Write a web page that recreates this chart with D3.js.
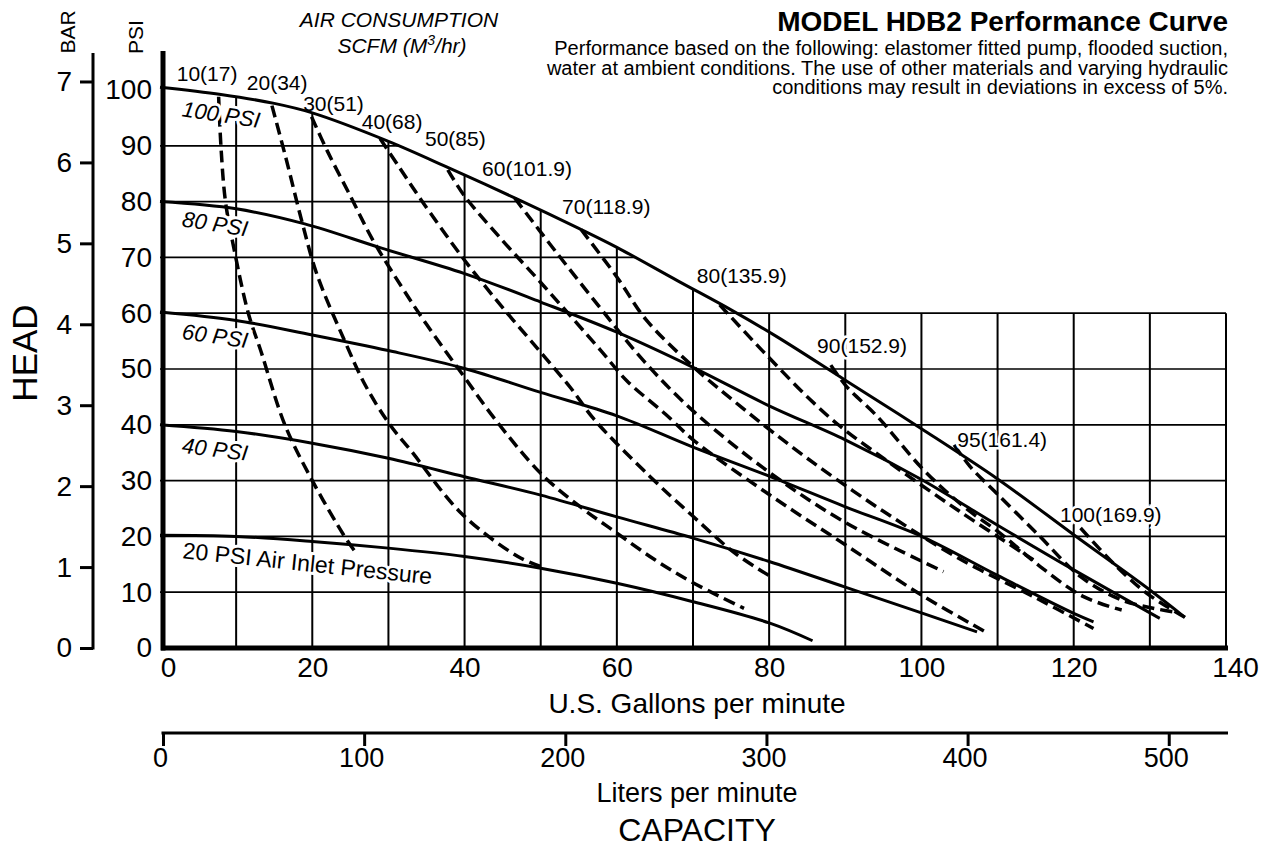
<!DOCTYPE html>
<html>
<head>
<meta charset="utf-8">
<script src="https://cdn.jsdelivr.net/npm/d3@7"></script>
<style>
  body { margin: 0; background: #fff; }
  svg { display: block; font-family: 'Liberation Sans', Arial, sans-serif; }
  .axis .domain { display: none; }
  .axis text { fill: #000; }
  .axis line { stroke: #000; stroke-width: 3; }
</style>
</head>
<body>
<div id="chart"></div>
<script>
const dim = { width: 1267, height: 851 }

// ticks
const gpmTicks = [0, 20, 40, 60, 80, 100, 120, 140]
const gridGpm = [10, 20, 30, 40, 50, 60, 70, 80, 90, 100, 110, 120, 130, 140]
const psiTicks = [0, 10, 20, 30, 40, 50, 60, 70, 80, 90, 100]
const gridPsi = [10, 20, 30, 40, 50, 60, 70, 80, 90]
const barTicks = [0, 1, 2, 3, 4, 5, 6, 7]
const literTicks = [0, 100, 200, 300, 400, 500]

// head curves at each air inlet pressure  [gpm, psi]
const pressureNames = ['100 PSI', '80 PSI', '60 PSI', '40 PSI', '20 PSI Air Inlet Pressure']
const psi100 = [[0,100.5],[8,99.2],[15,97.6],[20,95.9],[30,90.8],[38,86],[47,80.4],[55,75.2],[60,71.8],[68,65.8],[75,60.6],[81,55.8],[90,48],[100,39.3],[110,30.3],[120,20.3],[130,10.4],[134.6,5.5]]
const psi80 = [[0,80],[10,78.7],[19,76],[29,71.7],[40,67.1],[50,62],[60,56.6],[70,50.3],[80,43.4],[90,37.3],[100,30.2],[110,22],[120,14],[131.3,5.3]]
const psi60 = [[0,60.2],[10,58.7],[20,56.1],[30,53.3],[40,50.1],[50,45.8],[60,41.6],[70,36],[80,30.8],[90,25.3],[100,20],[110,13],[120,6.2],[122.6,4.7]]
const psi40 = [[0,40],[10,38.8],[20,36.7],[30,34],[40,30.7],[50,27.4],[60,23.5],[70,19.7],[80,15.5],[90,10.9],[100,6.3],[107.3,2.9]]
const psi20 = [[0,20.2],[10,20],[20,19.1],[30,17.9],[40,16.4],[50,14.3],[60,11.6],[70,8.3],[80,4.5],[85.7,1.3]]

// air consumption lines, SCFM (m3/hr)  [gpm, psi]
const airNames = ['10(17)', '20(34)', '30(51)', '40(68)', '50(85)', '60(101.9)', '70(118.9)', '80(135.9)', '90(152.9)', '95(161.4)', '100(169.9)']
const air10 = [[7.7,98.8],[8.0,90],[8.6,80],[9.8,71],[11.6,60],[13.3,53],[16.4,40],[20,30],[24.1,20.3],[25.6,17.3]]
const air20 = [[14.7,97.2],[16.5,88],[18.7,76.1],[20.6,67],[24.2,55.2],[27,47],[30.2,40],[33,35.3],[39.6,24.1],[47,16.4],[50,14.6]]
const air30 = [[19.9,95.2],[22,89],[25,81],[28,73],[31.7,64.8],[35,58],[40,48.5],[44,41],[50,31.3],[55,25.5],[60,20.6],[65,15.8],[70,11.7],[76.7,7.1]]
const air40 = [[28.9,91.3],[31.5,86],[34.3,80.3],[40,69.5],[45,61],[50,53],[54,46.5],[57,41],[64.3,30.8],[70,23.6],[75.5,17],[80.2,12.8]]
const air50 = [[37.8,85.7],[40,81],[45,73],[50,65.5],[57.9,53.3],[61.3,47.9],[66.4,41.9],[70.2,37.1],[80,27.5],[90,18.5],[100,9.5],[108.8,2.6]]
const air60 = [[46.6,80.6],[52,71],[57.9,60.8],[63.5,51.5],[70,42.5],[80,31.5],[90,22.5],[102.9,13.7]]
const air70 = [[55.3,75],[60,66.5],[63.8,58.9],[69.8,50.7],[76.6,42.9],[85,34],[95,24.5],[105,16],[115,9],[122.6,3.5]]
const air80 = [[73.5,61.5],[79.1,53.3],[85.1,44.9],[89,40.1],[95,34],[105,24.5],[114.7,15.8]]
const air90 = [[88.1,50.7],[90.2,46.8],[94.2,41.5],[100.3,31.9],[105.6,25.3],[110.4,20.5],[115.6,14.6],[121.3,9.2],[126.3,6.8]]
const air95 = [[104.3,36.4],[106.4,32.5],[109.9,27.7],[115.2,20.5],[120.9,12.8],[126.5,8.5],[133,6.5]]
const air100 = [[120.9,21.5],[125.2,15.2],[129.6,9.8],[134.6,5.5]]

// where the curve labels sit  [gpm, psi, angle]
const pressureLabelAt = [[2.8,95.3,8.5],[2.8,75.6,9],[2.8,55.4,8],[2.8,35,7],[2.9,16.1,6]]
const airLabelAt = [[2.2,101.6],[11.4,100],[18.8,96.2],[26.5,93],[34.8,90],[42.3,84.6],[52.8,77.8],[70.5,65.4],[86.3,52.9],[104.7,36],[118.2,22.6]]

const pressureCurves = [psi100, psi80, psi60, psi40, psi20]
const airCurves = [air10, air20, air30, air40, air50, air60, air70, air80, air90, air95, air100]

const svg = d3.select('#chart')
    .append('svg')
        .attr('width', dim.width)
        .attr('height', dim.height)

// scales
const xScale = d3.scaleLinear().domain([0, 140]).range([160, 1226])
const yScale = d3.scaleLinear().domain([0, 100]).range([648, 90])
const barScale = d3.scaleLinear().domain([0, 100 / 14.5038]).range([648, 90])
const literScale = d3.scaleLinear().domain([0, 140 * 3.78541]).range([160, 1226])

// helpers: read the 100 psi curve
function psiAt(curve, g) {
    for (let i = 0; i < curve.length - 1; i++) {
        const [g0, p0] = curve[i], [g1, p1] = curve[i + 1]
        if (g >= g0 && g <= g1) return p0 + (p1 - p0) * (g - g0) / (g1 - g0)
    }
    return -Infinity
}
function gpmAt(curve, p) {
    for (let i = 0; i < curve.length - 1; i++) {
        const [g0, p0] = curve[i], [g1, p1] = curve[i + 1]
        if (p <= p0 && p >= p1) return g0 + (g1 - g0) * (p0 - p) / (p0 - p1)
    }
    return 140
}

// grid, capped by the 100 psi curve (or the 60 psi line)
const grid = svg.append('g').attr('stroke', '#000')
grid.selectAll('.v')
    .data(gridGpm)
    .join('line')
        .attr('stroke-width', 2)
        .attr('x1', d => xScale(d))
        .attr('x2', d => xScale(d))
        .attr('y1', yScale(0))
        .attr('y2', d => yScale(Math.max(psiAt(psi100, d), 60)))
grid.selectAll('.h')
    .data(gridPsi)
    .join('line')
        .attr('stroke-width', 1.7)
        .attr('x1', xScale(0))
        .attr('x2', d => d <= 60 ? xScale(140) : xScale(gpmAt(psi100, d)))
        .attr('y1', d => yScale(d))
        .attr('y2', d => yScale(d))

const line = d3.line()
    .x(d => xScale(d[0]))
    .y(d => yScale(d[1]))
    .curve(d3.curveCatmullRom.alpha(0.5))

// dashed air consumption lines
svg.append('g')
    .selectAll('path')
    .data(airCurves)
    .join('path')
        .attr('d', line)
        .attr('fill', 'none')
        .attr('stroke', '#000')
        .attr('stroke-width', 3.5)
        .attr('stroke-dasharray', '12,6')

// labels (white halo knocks out the grid behind)
svg.append('g')
    .selectAll('text')
    .data(airNames)
    .join('text')
        .attr('x', (d, i) => xScale(airLabelAt[i][0]))
        .attr('y', (d, i) => yScale(airLabelAt[i][1]))
        .attr('font-size', 21)
        .attr('stroke', '#fff')
        .attr('stroke-width', 5)
        .attr('paint-order', 'stroke')
        .text(d => d)

svg.append('g')
    .selectAll('text')
    .data(pressureNames)
    .join('text')
        .attr('transform', (d, i) => `translate(${xScale(pressureLabelAt[i][0])},${yScale(pressureLabelAt[i][1])}) rotate(${pressureLabelAt[i][2]})`)
        .attr('font-size', (d, i) => i < 4 ? 22 : 23)
        .attr('font-style', (d, i) => i < 4 ? 'italic' : 'normal')
        .attr('stroke', '#fff')
        .attr('stroke-width', 6)
        .attr('paint-order', 'stroke')
        .text(d => d)

// solid head curves
svg.append('g')
    .selectAll('path')
    .data(pressureCurves)
    .join('path')
        .attr('d', line)
        .attr('fill', 'none')
        .attr('stroke', '#000')
        .attr('stroke-width', 3)

// psi axis
const psiAxis = svg.append('g')
    .attr('class', 'axis')
    .attr('transform', 'translate(163,0)')
    .call(d3.axisLeft(yScale).tickValues(psiTicks).tickSize(0).tickPadding(11))
psiAxis.selectAll('text').attr('font-size', 28).attr('font-family', null)
svg.append('line')
    .attr('x1', 163).attr('x2', 163)
    .attr('y1', 51).attr('y2', yScale(0) + 2.5)
    .attr('stroke', '#000').attr('stroke-width', 5)

// bar axis
const barAxis = svg.append('g')
    .attr('class', 'axis')
    .attr('transform', 'translate(93,0)')
    .call(d3.axisLeft(barScale).tickValues(barTicks).tickFormat(d3.format('d')).tickSize(13).tickPadding(8))
barAxis.selectAll('text').attr('font-size', 28).attr('font-family', null)
svg.append('line')
    .attr('x1', 93).attr('x2', 93)
    .attr('y1', 53).attr('y2', barScale(0) + 1.5)
    .attr('stroke', '#000').attr('stroke-width', 3)

// gallons axis
const gpmAxis = svg.append('g')
    .attr('class', 'axis')
    .attr('transform', `translate(0,${yScale(0)})`)
    .call(d3.axisBottom(xScale).tickValues(gpmTicks).tickSize(0).tickPadding(9))
gpmAxis.selectAll('text')
    .attr('font-size', 28)
    .attr('font-family', null)
    .attr('dx', d => d === 0 ? 8 : d === 140 ? 9 : 0)
svg.append('line')
    .attr('x1', 161).attr('x2', 1228)
    .attr('y1', yScale(0)).attr('y2', yScale(0))
    .attr('stroke', '#000').attr('stroke-width', 5)

// liters axis
const literY = 733
const literAxis = svg.append('g')
    .attr('class', 'axis')
    .attr('transform', `translate(0,${literY})`)
    .call(d3.axisBottom(literScale).tickValues(literTicks).tickSize(13).tickPadding(2))
literAxis.selectAll('text').attr('font-size', 27).attr('font-family', null)
literAxis.selectAll('line').attr('transform', 'translate(3,0)')
svg.append('line')
    .attr('x1', 161.5).attr('x2', 1228)
    .attr('y1', literY).attr('y2', literY)
    .attr('stroke', '#000').attr('stroke-width', 3)

// axis titles
svg.append('text').attr('x', 697).attr('y', 713).attr('text-anchor', 'middle').attr('font-size', 28).text('U.S. Gallons per minute')
svg.append('text').attr('x', 697).attr('y', 802).attr('text-anchor', 'middle').attr('font-size', 27).text('Liters per minute')
svg.append('text').attr('x', 697).attr('y', 841).attr('text-anchor', 'middle').attr('font-size', 32).text('CAPACITY')
svg.append('text').attr('transform', 'translate(37,353) rotate(-90)').attr('text-anchor', 'middle').attr('font-size', 35).text('HEAD')
svg.append('text').attr('transform', 'translate(75,32) rotate(-90)').attr('text-anchor', 'middle').attr('font-size', 21).text('BAR')
svg.append('text').attr('transform', 'translate(143,37) rotate(-90)').attr('text-anchor', 'middle').attr('font-size', 21).text('PSI')

// air consumption header
svg.append('text').attr('x', 399).attr('y', 27).attr('text-anchor', 'middle').attr('font-size', 21).attr('font-style', 'italic').text('AIR CONSUMPTION')
const scfm = svg.append('text').attr('x', 402).attr('y', 53).attr('text-anchor', 'middle').attr('font-size', 21).attr('font-style', 'italic')
scfm.append('tspan').text('SCFM (M')
scfm.append('tspan').attr('font-size', 14).attr('dy', -8).text('3')
scfm.append('tspan').attr('dy', 8).text('/hr)')

// title block
svg.append('text').attr('x', 1228).attr('y', 31).attr('text-anchor', 'end').attr('font-size', 28).attr('font-weight', 'bold').text('MODEL HDB2 Performance Curve')
const notes = [
    'Performance based on the following: elastomer fitted pump, flooded suction,',
    'water at ambient conditions. The use of other materials and varying hydraulic',
    'conditions may result in deviations in excess of 5%.'
]
svg.append('g')
    .selectAll('text')
    .data(notes)
    .join('text')
        .attr('x', 1228)
        .attr('y', (d, i) => 55 + i * 19.5)
        .attr('text-anchor', 'end')
        .attr('font-size', 20)
        .text(d => d)
</script>
</body>
</html>
